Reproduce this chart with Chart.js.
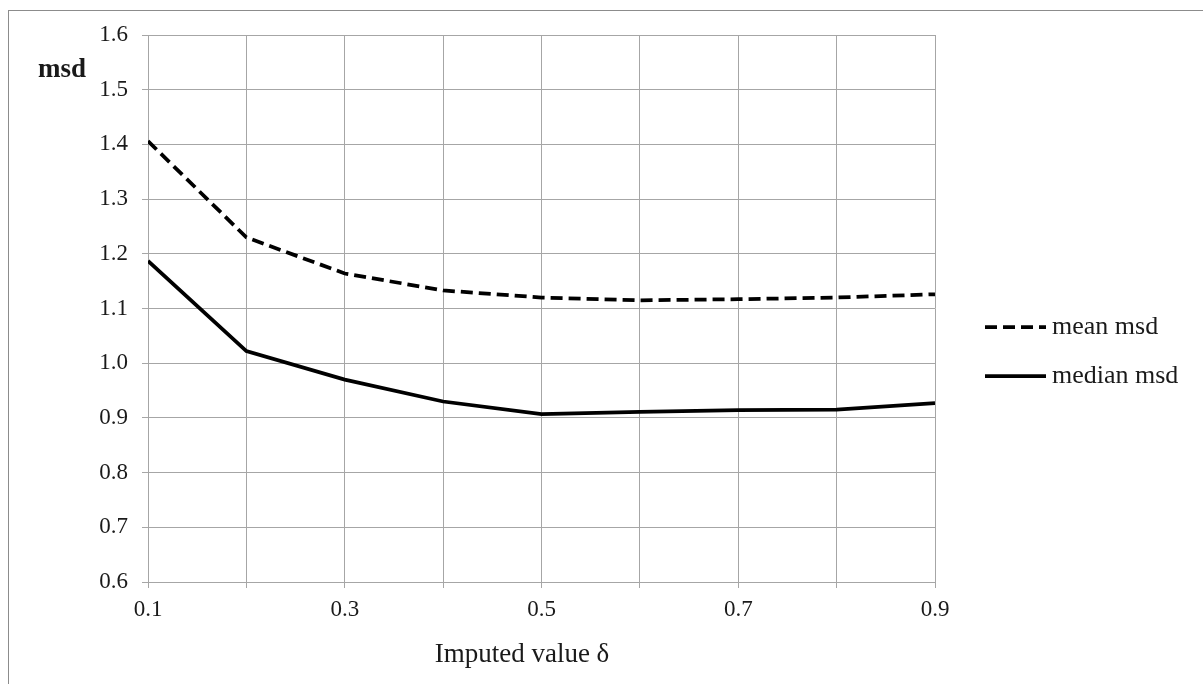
<!DOCTYPE html>
<html>
<head>
<meta charset="utf-8">
<script src="https://cdn.jsdelivr.net/npm/chart.js@4"></script>
<style>
  html, body { margin: 0; padding: 0; background: #fff; }
  #wrap { position: relative; width: 1203px; height: 684px; overflow: hidden; }
  #frame { position: absolute; left: 8px; top: 10px; width: 1300px; height: 800px; border: 1px solid #8c8c8c; }
  canvas { position: absolute; left: 0; top: 0; }
</style>
</head>
<body>
<div id="wrap">
  <div id="frame"></div>
  <canvas id="c" width="1203" height="684"></canvas>
</div>
<script>
// ---- data ----
const deltas = [0.1, 0.2, 0.3, 0.4, 0.5, 0.6, 0.7, 0.8, 0.9];
const meanMsd = [1.406, 1.230, 1.164, 1.133, 1.120, 1.115, 1.117, 1.120, 1.126];
const medianMsd = [1.187, 1.022, 0.970, 0.930, 0.907, 0.911, 0.914, 0.915, 0.927];
const seriesNames = ['mean msd', 'median msd'];
const yTicks = [0.6, 0.7, 0.8, 0.9, 1.0, 1.1, 1.2, 1.3, 1.4, 1.5, 1.6];
const xTickLabels = ['0.1', '0.3', '0.5', '0.7', '0.9'];
const yTitle = 'msd';
const xTitle = 'Imputed value \u03B4';

const FONT = "'Liberation Serif', 'Times New Roman', serif";
const GRID = '#a6a6a6';
const TEXT = '#1a1a1a';

const toPts = arr => deltas.map((d, i) => ({ x: d, y: arr[i] }));

// custom legend, horizontal y title and x title
const extras = {
  id: 'extras',
  afterDraw(chart) {
    const ctx = chart.ctx;
    const area = chart.chartArea;
    ctx.save();
    ctx.fillStyle = TEXT;
    ctx.textAlign = 'left';
    ctx.textBaseline = 'alphabetic';
    // y title
    ctx.font = 'bold 27px ' + FONT;
    ctx.fillText(yTitle, 38, 77);
    // x title
    ctx.font = '27px ' + FONT;
    ctx.textAlign = 'center';
    ctx.fillText(xTitle, 522, 662);
    // legend
    const x0 = area.right + 50;
    const lineLen = 61;
    const rows = [327, 376];
    chart.data.datasets.forEach((ds, i) => {
      const y = rows[i];
      ctx.beginPath();
      ctx.setLineDash(ds.borderDash || []);
      ctx.lineWidth = ds.borderWidth;
      ctx.strokeStyle = ds.borderColor;
      ctx.moveTo(x0, y);
      ctx.lineTo(x0 + lineLen, y);
      ctx.stroke();
      ctx.setLineDash([]);
      ctx.font = '26px ' + FONT;
      ctx.fillStyle = TEXT;
      ctx.textAlign = 'left';
      ctx.textBaseline = 'middle';
      ctx.fillText(ds.label, x0 + lineLen + 6, y);
    });
    ctx.restore();
  }
};

new Chart(document.getElementById('c'), {
  type: 'line',
  data: {
    datasets: [
      { label: seriesNames[0], data: toPts(meanMsd), borderColor: '#000', borderWidth: 3.75,
        borderDash: [12, 6], pointRadius: 0, tension: 0, fill: false },
      { label: seriesNames[1], data: toPts(medianMsd), borderColor: '#000', borderWidth: 3.75,
        pointRadius: 0, tension: 0, fill: false }
    ]
  },
  options: {
    responsive: false,
    animation: false,
    devicePixelRatio: 1,
    layout: { padding: { left: 0, right: 268, top: 35, bottom: 0 } },
    plugins: { legend: { display: false }, tooltip: { enabled: false } },
    scales: {
      x: {
        type: 'linear', min: 0.1, max: 0.9,
        afterBuildTicks: s => { s.ticks = deltas.map(v => ({ value: v })); },
        afterFit: s => { s.height = 102; },
        grid: { color: GRID, lineWidth: 1, tickLength: 6, drawTicks: true },
        border: { color: GRID, width: 1 },
        ticks: {
          color: TEXT, font: { family: FONT, size: 23 }, padding: 8, maxRotation: 0, autoSkip: false,
          callback: (v, i) => (i % 2 === 0 ? xTickLabels[i / 2] : '')
        },
        title: { display: false }
      },
      y: {
        type: 'linear', min: 0.6, max: 1.6,
        afterBuildTicks: s => { s.ticks = yTicks.map(v => ({ value: v })); },
        afterFit: s => { s.width = 148; },
        grid: { color: GRID, lineWidth: 1, tickLength: 6, drawTicks: true },
        border: { color: GRID, width: 1 },
        ticks: { color: TEXT, font: { family: FONT, size: 23 }, padding: 14,
                 callback: v => Number(v).toFixed(1) }
      }
    }
  },
  plugins: [extras]
});
</script>
</body>
</html>
